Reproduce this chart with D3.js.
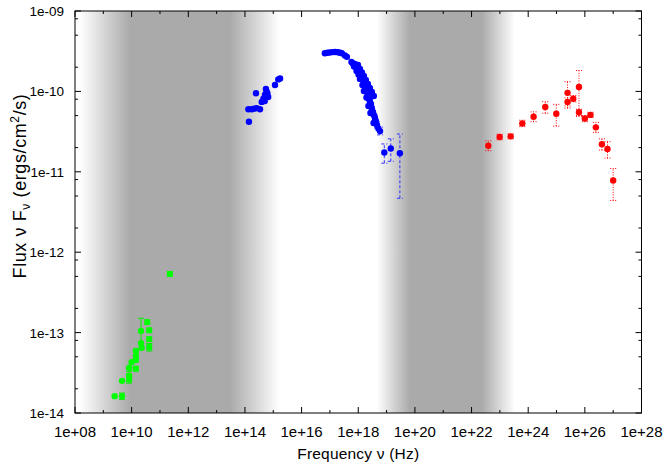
<!DOCTYPE html>
<html>
<head>
  <meta charset="utf-8">
  <title>SED</title>
  <script src="https://d3js.org/d3.v7.min.js"></script>
  <style>
    body { margin: 0; background: #fff; }
    text { font-family: "Liberation Sans", Arial, sans-serif; fill: #000; }
  </style>
</head>
<body>
  <svg id="sed" width="666" height="467"></svg>
  <script>
    // tick labels
    var xTickLabels = ["1e+08", "1e+10", "1e+12", "1e+14", "1e+16", "1e+18", "1e+20", "1e+22", "1e+24", "1e+26", "1e+28"];
    var yTickLabels = ["1e-14", "1e-13", "1e-12", "1e-11", "1e-10", "1e-09"];

    // shaded frequency bands: [white start, full grey, full grey end, white end] in Hz
    var bandEdges = [
      [1.5e8, 8.7e9, 3.0e13, 1.7e15],
      [4.5e18, 6.6e19, 2.3e22, 3.4e23]
    ];

    // radio (green)
    var radioNu   = [2.24e11, 3.55e10, 2.14e10, 4.17e10, 2.14e10, 4.17e10, 2.24e10, 4.17e10, 1.41e10, 1.41e10, 1.41e10, 1.0e10, 8.13e9, 1.41e10, 8.13e9, 8.13e9, 4.57e9, 2.51e9, 4.57e9];
    var radioFlux = [5.37e-13, 1.35e-13, 1.05e-13, 1.07e-13, 7.4e-14, 8.3e-14, 6.46e-14, 6.6e-14, 5.9e-14, 5.0e-14, 4.57e-14, 4.27e-14, 3.63e-14, 3.55e-14, 2.88e-14, 2.63e-14, 2.51e-14, 1.62e-14, 1.62e-14];
    var radioLo   = [5.1e-13, null, 7.4e-14, null, null, null, null, 5.9e-14, null, null, null, null, null, null, 2.35e-14, null, null, null, 1.48e-14];
    var radioHi   = [5.65e-13, null, 1.51e-13, null, null, null, null, 7.3e-14, null, null, null, null, null, null, 3.3e-14, null, null, null, 1.77e-14];
    var radioSquare = [1, 1, 0, 1, 0, 1, 0, 1, 0, 1, 0, 0, 0, 1, 1, 1, 0, 0, 0];

    // optical / UV (blue)
    var optNu   = [1.38e14, 1.32e14, 1.74e14, 2.1e14, 2.6e14, 3.4e14, 2.45e14, 3.9e14, 4.5e14, 5.1e14, 5.5e14, 6.2e14, 6.6e14, 5.0e14, 5.8e14, 1.15e15, 1.5e15, 1.74e15];
    var optFlux = [4.2e-11, 6.0e-11, 6.0e-11, 6.1e-11, 6.2e-11, 6.0e-11, 9.5e-11, 7.4e-11, 8.1e-11, 9.1e-11, 1.07e-10, 9.5e-11, 8.5e-11, 7.6e-11, 1.0e-10, 1.2e-10, 1.41e-10, 1.45e-10];

    // X-ray (blue)
    var xrayNu   = [6.61e16, 8.13e16, 1.0e17, 1.23e17, 1.51e17, 1.91e17, 2.29e17, 2.63e17, 3.39e17, 3.98e17,
                    5.75e17, 6.46e17, 7.59e17, 7.08e17, 8.32e17, 9.33e17, 8.71e17, 1.05e18, 1.02e18, 1.15e18,
                    1.35e18, 1.15e18, 1.48e18, 1.58e18, 1.41e18, 1.74e18, 1.86e18, 1.58e18, 2.04e18, 2.19e18,
                    1.95e18, 2.40e18, 2.57e18, 2.82e18, 2.29e18, 3.02e18, 3.31e18, 2.69e18, 3.55e18, 3.89e18,
                    4.17e18, 3.47e18, 4.57e18, 5.13e18, 5.89e18, 8.32e18, 1.41e19, 2.95e19,
                    9.77e17, 1.15e18, 1.35e18, 1.58e18, 1.86e18, 2.19e18, 2.57e18, 3.02e18, 3.55e18];
    var xrayFlux = [2.98e-10, 3.03e-10, 3.05e-10, 3.08e-10, 3.09e-10, 3.07e-10, 3.02e-10, 2.98e-10, 2.80e-10, 2.69e-10,
                    2.32e-10, 2.22e-10, 2.19e-10, 2.04e-10, 2.01e-10, 1.90e-10, 1.79e-10, 1.74e-10, 1.62e-10, 1.60e-10,
                    1.49e-10, 1.43e-10, 1.39e-10, 1.27e-10, 1.20e-10, 1.17e-10, 1.07e-10, 1.01e-10, 9.84e-11, 9.02e-11,
                    8.39e-11, 8.04e-11, 7.60e-11, 6.97e-11, 6.58e-11, 6.22e-11, 5.55e-11, 5.38e-11, 5.08e-11, 4.67e-11,
                    4.29e-11, 4.05e-11, 3.82e-11, 3.46e-11, 3.21e-11, 1.74e-11, 1.95e-11, 1.70e-11,
                    2.13e-10, 1.90e-10, 1.72e-10, 1.56e-10, 1.39e-10, 1.24e-10, 1.10e-10, 9.84e-11, 8.77e-11];
    var xrayLo = {39: 4.3e-11, 42: 3.5e-11, 44: 2.88e-11, 45: 1.28e-11, 46: 1.35e-11, 47: 4.68e-12};
    var xrayHi = {39: 5.1e-11, 42: 4.2e-11, 44: 3.6e-11, 45: 2.22e-11, 46: 2.57e-11, 47: 2.95e-11};

    // gamma-ray (red)
    var gammaNu   = [3.9e22, 9.8e22, 2.4e23, 6.2e23, 1.55e24, 4.0e24, 9.8e24, 2.45e25, 2.45e25, 3.9e25, 6.2e25, 6.2e25, 1.0e26, 1.58e26, 2.45e26, 4.0e26, 6.3e26, 1.0e27];
    var gammaFlux = [2.11e-11, 2.71e-11, 2.76e-11, 4.0e-11, 4.84e-11, 6.4e-11, 5.28e-11, 9.6e-11, 7.4e-11, 8.1e-11, 1.135e-10, 5.5e-11, 4.6e-11, 5.1e-11, 3.57e-11, 2.2e-11, 1.92e-11, 7.8e-12];
    var gammaLo   = [1.83e-11, 2.50e-11, 2.57e-11, 3.65e-11, 4.2e-11, 5.35e-11, 3.7e-11, 6.2e-11, 6.6e-11, 7.4e-11, 4.9e-11, 5.0e-11, 4.2e-11, 4.75e-11, 3.09e-11, 1.86e-11, 1.48e-11, 4.4e-12];
    var gammaHi   = [2.42e-11, 2.93e-11, 2.96e-11, 4.38e-11, 5.56e-11, 7.45e-11, 6.9e-11, 1.32e-10, 8.3e-11, 8.9e-11, 1.82e-10, 6.0e-11, 5.0e-11, 5.5e-11, 4.12e-11, 2.57e-11, 2.37e-11, 1.1e-11];

    var margin = {left: 75, right: 641.5, top: 11, bottom: 413};
    var svg = d3.select("#sed");

    var x = d3.scaleLog().domain([1e8, 1e28]).range([margin.left, margin.right]);
    var y = d3.scaleLog().domain([1e-14, 1e-9]).range([margin.bottom, margin.top]);

    // grey bands with soft edges
    var defs = svg.append("defs");
    bandEdges.forEach(function (b, i) {
      var x0 = x(b[0]), x3 = x(b[3]);
      var g = defs.append("linearGradient")
        .attr("id", "band" + i)
        .attr("gradientUnits", "userSpaceOnUse")
        .attr("x1", x0).attr("x2", x3).attr("y1", 0).attr("y2", 0);
      var stops = [[0, "#ffffff"], [(x(b[1]) - x0) / (x3 - x0), "#aaaaaa"],
                   [(x(b[2]) - x0) / (x3 - x0), "#aaaaaa"], [1, "#ffffff"]];
      stops.forEach(function (s) {
        g.append("stop").attr("offset", s[0]).attr("stop-color", s[1]);
      });
      svg.append("rect")
        .attr("x", Math.max(x0, margin.left))
        .attr("y", margin.top)
        .attr("width", x3 - Math.max(x0, margin.left))
        .attr("height", margin.bottom - margin.top)
        .attr("fill", "url(#band" + i + ")");
    });

    // error bars
    function errorBar(cls, color, dash, nu, lo, hi) {
      var g = svg.append("g").attr("class", cls)
        .attr("stroke", color).attr("stroke-width", 1).attr("fill", "none")
        .attr("stroke-dasharray", dash);
      g.append("line").attr("x1", x(nu)).attr("x2", x(nu)).attr("y1", y(lo)).attr("y2", y(hi));
      [lo, hi].forEach(function (v) {
        g.append("line").attr("x1", x(nu) - 3).attr("x2", x(nu) + 3).attr("y1", y(v)).attr("y2", y(v));
      });
    }

    radioNu.forEach(function (nu, i) {
      if (radioLo[i] !== null) errorBar("err-radio", "#00ee00", null, nu, radioLo[i], radioHi[i]);
    });
    Object.keys(xrayLo).forEach(function (k) {
      errorBar("err-xray", "#3333ff", "3,2", xrayNu[k], xrayLo[k], xrayHi[k]);
    });
    gammaNu.forEach(function (nu, i) {
      errorBar("err-gamma", "#ff0000", "1,1.5", nu, gammaLo[i], gammaHi[i]);
    });

    // points
    var radio = d3.range(radioNu.length);
    svg.append("g").selectAll("rect")
      .data(radio.filter(function (i) { return radioSquare[i]; }))
      .enter().append("rect")
      .attr("x", function (i) { return x(radioNu[i]) - 3; })
      .attr("y", function (i) { return y(radioFlux[i]) - 3; })
      .attr("width", 6).attr("height", 6)
      .attr("fill", "#00ff00");
    svg.append("g").selectAll("circle")
      .data(radio.filter(function (i) { return !radioSquare[i]; }))
      .enter().append("circle")
      .attr("cx", function (i) { return x(radioNu[i]); })
      .attr("cy", function (i) { return y(radioFlux[i]); })
      .attr("r", 3.2).attr("fill", "#00ff00");

    function dots(nu, flux, color) {
      svg.append("g").selectAll("circle")
        .data(nu)
        .enter().append("circle")
        .attr("cx", function (d) { return x(d); })
        .attr("cy", function (d, i) { return y(flux[i]); })
        .attr("r", 3.2)
        .attr("fill", color);
    }
    dots(optNu, optFlux, "#0000ff");
    dots(xrayNu, xrayFlux, "#0000ff");
    dots(gammaNu, gammaFlux, "#ff0000");

    // frame
    svg.append("rect")
      .attr("x", margin.left).attr("y", margin.top)
      .attr("width", margin.right - margin.left).attr("height", margin.bottom - margin.top)
      .attr("fill", "none").attr("stroke", "#000").attr("stroke-width", 1);

    // ticks on all four sides, pointing inward
    var ticks = svg.append("g").attr("stroke", "#000").attr("stroke-width", 1);
    for (var e = 8; e <= 28; e++) {
      var len = (e % 2 === 0) ? 6 : 3;
      var px = x(Math.pow(10, e));
      ticks.append("line").attr("x1", px).attr("x2", px).attr("y1", margin.bottom).attr("y2", margin.bottom - len);
      ticks.append("line").attr("x1", px).attr("x2", px).attr("y1", margin.top).attr("y2", margin.top + len);
    }
    var yTicks = [];
    for (var p = -14; p <= -9; p++) {
      yTicks.push([Math.pow(10, p), 6]);
      if (p < -9) [2, 5, 8].forEach(function (m) { yTicks.push([m * Math.pow(10, p), 3]); });
    }
    yTicks.forEach(function (t) {
      var py = y(t[0]);
      ticks.append("line").attr("x1", margin.left).attr("x2", margin.left + t[1]).attr("y1", py).attr("y2", py);
      ticks.append("line").attr("x1", margin.right).attr("x2", margin.right - t[1]).attr("y1", py).attr("y2", py);
    });

    // tick labels
    svg.append("g").selectAll("text")
      .data(xTickLabels).enter().append("text")
      .attr("x", function (d) { return x(+d); })
      .attr("y", 437)
      .attr("text-anchor", "middle")
      .attr("font-size", 15)
      .text(function (d) { return d; });
    svg.append("g").selectAll("text")
      .data(yTickLabels).enter().append("text")
      .attr("x", 64)
      .attr("y", function (d) { return y(+d) + 5; })
      .attr("text-anchor", "end")
      .attr("font-size", 13.5)
      .text(function (d) { return d; });

    // axis titles
    svg.append("text")
      .attr("x", (margin.left + margin.right) / 2)
      .attr("y", 459)
      .attr("text-anchor", "middle")
      .attr("font-size", 15.5)
      .attr("letter-spacing", 0.2)
      .text("Frequency \u03bd (Hz)");

    var yt = svg.append("text")
      .attr("transform", "translate(26," + 186 + ") rotate(-90)")
      .attr("text-anchor", "middle")
      .attr("font-size", 18)
      .attr("letter-spacing", 0.6);
    yt.append("tspan").text("Flux \u03bd F");
    yt.append("tspan").attr("dy", 4).attr("font-size", 12).text("\u03bd");
    yt.append("tspan").attr("dy", -4).text(" (ergs/cm");
    yt.append("tspan").attr("dy", -7).attr("font-size", 12).text("2");
    yt.append("tspan").attr("dy", 7).text("/s)");
  </script>
</body>
</html>
